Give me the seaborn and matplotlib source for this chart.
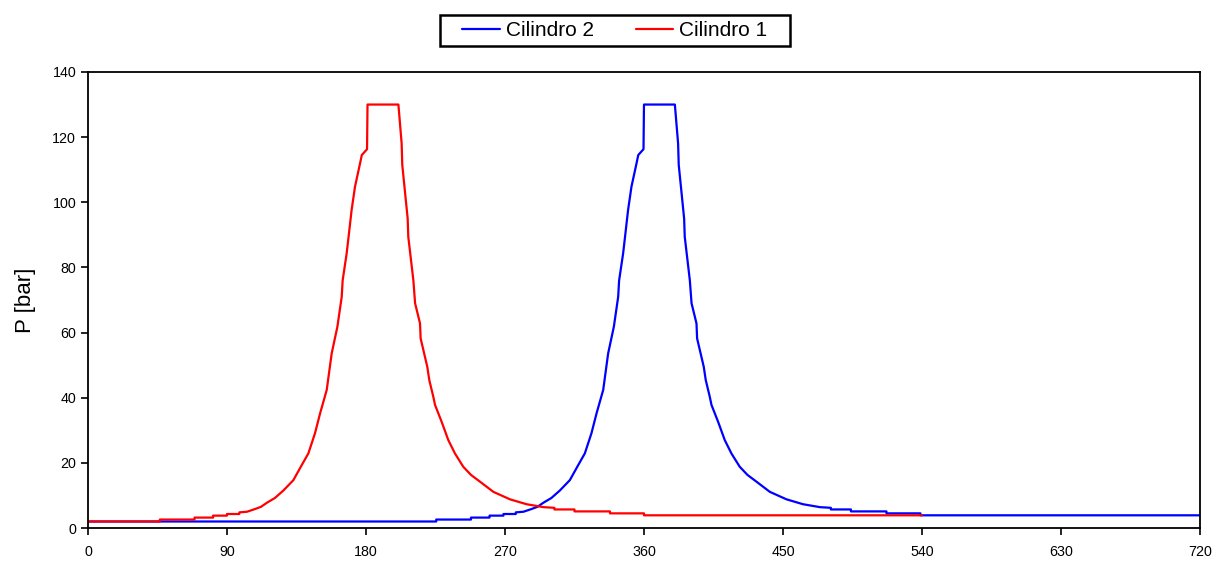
import matplotlib
matplotlib.use("Agg")
import matplotlib.pyplot as plt
from matplotlib.path import Path
import seaborn as sns
import pandas as pd

# Cilindro 1 (red) : crank angle [deg], pressure [bar]
angle_c1 = [0, 46.5, 46.5, 69, 69, 81, 81, 90, 90, 98, 98, 103, 108, 112, 116, 121,
            126.5, 133, 138.4, 142.7, 147, 150.3, 154.6, 157.8, 161.5, 164.3, 164.9,
            167.5, 169, 170.7, 172.9, 176.2, 177.3, 180.7, 181, 201, 203.1, 203.5,
            207, 207.4, 210.7, 211.8, 215, 215.4, 219.7, 221, 223.6, 224.7, 229,
            233.3, 237.6, 243, 248, 253.9, 262.5, 273.3, 284, 295, 302, 302, 315,
            315, 338, 338, 360, 360, 540]
p_c1 = [2.0, 2.0, 2.6, 2.6, 3.2, 3.2, 3.8, 3.8, 4.3, 4.3, 4.8, 5.0, 5.8, 6.5, 7.8, 9.2,
        11.5, 14.7, 19.3, 22.9, 29.1, 35.2, 42.4, 53.6, 61.8, 71.0, 76.0,
        84.3, 90.5, 97.6, 104.8, 112.0, 114.5, 116.3, 130.0, 130.0, 118.0, 111.5,
        95.0, 89.4, 76.0, 69.0, 62.8, 58.2, 49.5, 45.4, 40.3, 37.8, 32.6,
        27.0, 22.9, 18.8, 16.3, 14.2, 11.1, 8.8, 7.3, 6.4, 6.2, 5.7, 5.7,
        5.1, 5.1, 4.5, 4.5, 3.9, 3.9]

# Cilindro 2 (blue)
angle_c2 = [0, 225.5, 225.5, 248, 248, 260, 260, 269, 269, 277, 277, 282, 287, 291, 295, 300,
            305.5, 312, 317.4, 321.7, 326, 329.3, 333.6, 336.8, 340.5, 343.3, 343.9,
            346.5, 348, 349.7, 351.9, 355.2, 356.3, 359.7, 360, 380, 382.1, 382.5,
            386, 386.4, 389.7, 390.8, 394, 394.4, 398.7, 400, 402.6, 403.7, 408,
            412.3, 416.6, 422, 427, 432.9, 441.5, 452.3, 463, 474, 481, 481, 494,
            494, 517, 517, 539, 539, 720]
p_c2 = [2.0, 2.0, 2.6, 2.6, 3.2, 3.2, 3.8, 3.8, 4.3, 4.3, 4.8, 5.0, 5.8, 6.5, 7.8, 9.2,
        11.5, 14.7, 19.3, 22.9, 29.1, 35.2, 42.4, 53.6, 61.8, 71.0, 76.0,
        84.3, 90.5, 97.6, 104.8, 112.0, 114.5, 116.3, 130.0, 130.0, 118.0, 111.5,
        95.0, 89.4, 76.0, 69.0, 62.8, 58.2, 49.5, 45.4, 40.3, 37.8, 32.6,
        27.0, 22.9, 18.8, 16.3, 14.2, 11.1, 8.8, 7.3, 6.4, 6.2, 5.7, 5.7,
        5.1, 5.1, 4.5, 4.5, 3.9, 3.9]

x_ticks = [0, 90, 180, 270, 360, 450, 540, 630, 720]
y_ticks = [0, 20, 40, 60, 80, 100, 120, 140]

sns.set_theme(style="white")
plt.rcParams['font.family'] = ['Liberation Sans', 'DejaVu Sans']
plt.rcParams['text.color'] = 'black'
plt.rcParams['axes.labelcolor'] = 'black'

fig = plt.figure(figsize=(12.2, 5.61), dpi=100)
ax = fig.add_axes([0.0721, 0.0588, 0.9115, 0.8129])

df2 = pd.DataFrame({"angle": angle_c2, "p": p_c2})
df1 = pd.DataFrame({"angle": angle_c1, "p": p_c1})
sns.lineplot(data=df2, x="angle", y="p", estimator=None, sort=False,
             color="#0000FF", linewidth=1.6, label="Cilindro 2", ax=ax)
sns.lineplot(data=df1, x="angle", y="p", estimator=None, sort=False,
             color="#FF0000", linewidth=1.6, label="Cilindro 1", ax=ax)

ax.set_xlim(0, 720)
ax.set_ylim(0, 140)
ax.set_xticks(x_ticks)
ax.set_yticks(y_ticks)
ax.set_xlabel("")
ax.set_ylabel("P [bar]", fontsize=16, labelpad=12, color="black")
for s in ax.spines.values():
    s.set_color("black")
    s.set_linewidth(1.3)
ax.tick_params(axis="both", which="major", direction="out", length=5, width=1.2,
               colors="black", labelcolor="black", labelsize=10.3, left=True, bottom=True)
ax.tick_params(axis="x", pad=7)

ax.legend().remove()
leg = fig.legend(loc="center", bbox_to_anchor=(0.504, 0.946), ncol=2,
                 fontsize=15, frameon=True, fancybox=False, framealpha=1,
                 edgecolor="black", handlelength=1.8, columnspacing=2.0,
                 handletextpad=0.3, borderpad=0.3, labelcolor="black")


def wide_box(x0, y0, width, height, mutation_size):
    px = 16
    verts = [(x0 - px, y0), (x0 + width + px, y0), (x0 + width + px, y0 + height),
             (x0 - px, y0 + height), (x0 - px, y0)]
    return Path(verts, closed=True)


frame = leg.get_frame()
frame.set_boxstyle(wide_box)
frame.set_linewidth(1.8)

fig.savefig("out.png", dpi=100)
